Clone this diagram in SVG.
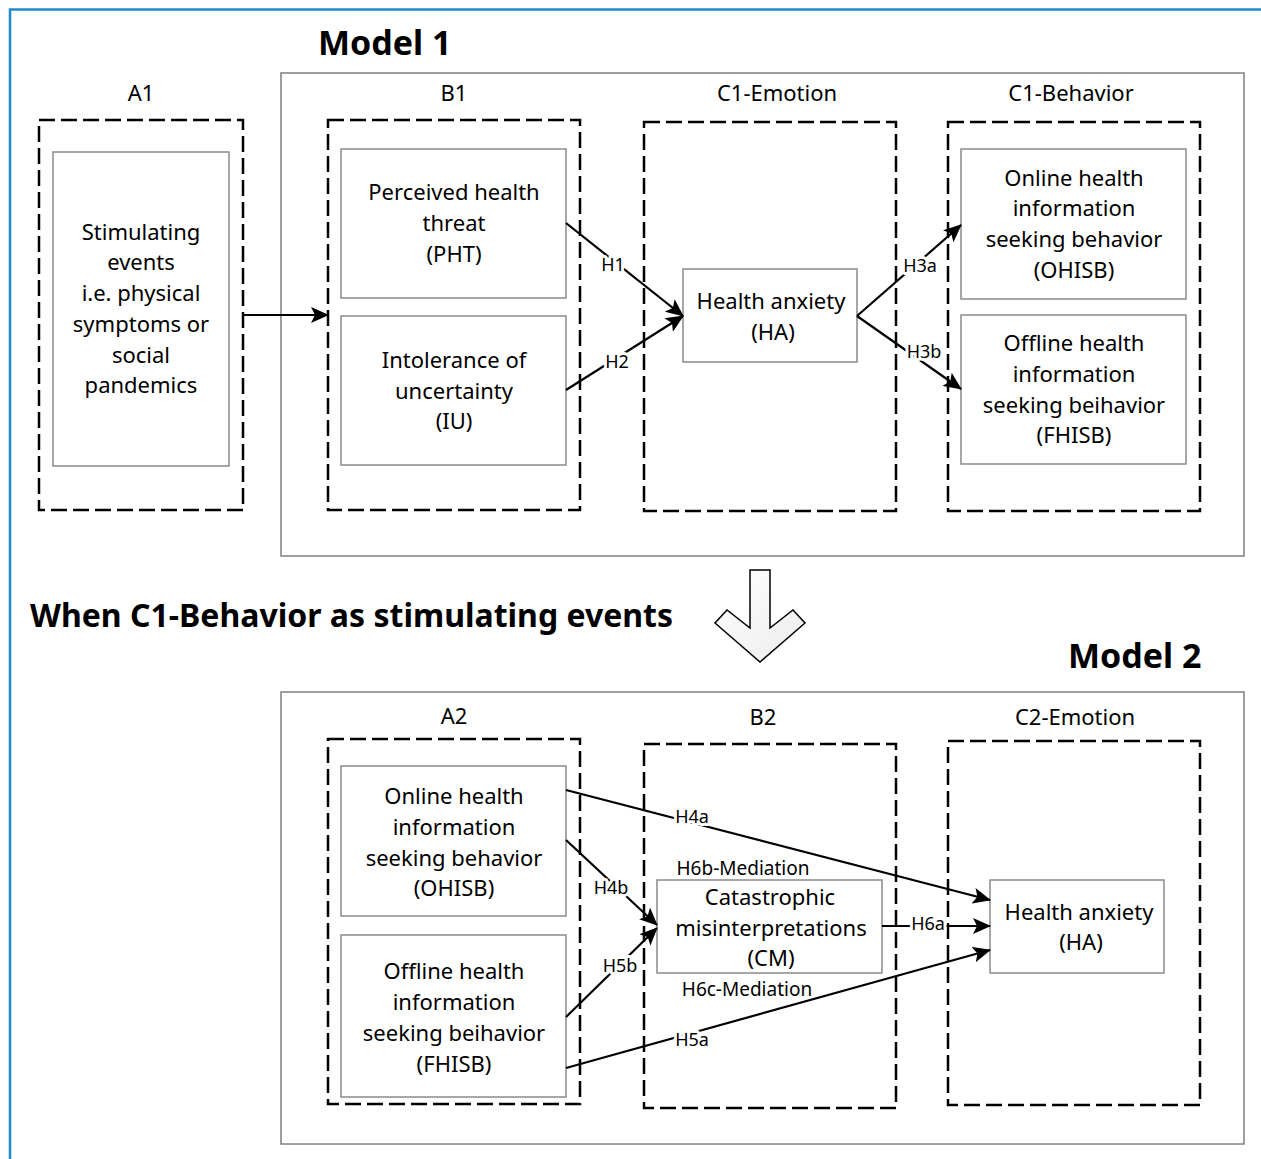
<svg xmlns="http://www.w3.org/2000/svg" width="1261" height="1159" viewBox="0 0 1261 1159">
<style>
text{font-family:"Noto Sans","Liberation Sans",sans-serif;fill:#000}
.t{font-size:22px;text-anchor:middle}
.s{font-size:22px;text-anchor:middle}
.h{font-size:32px;font-weight:bold}
.hm{font-size:34px;font-weight:bold}
.l{font-size:18px;text-anchor:middle;stroke:#fff;stroke-width:6;paint-order:stroke;stroke-linejoin:round}
.m{font-size:19px;text-anchor:middle}
.box{fill:#fff;stroke:#8a8a8a;stroke-width:1.5}
.dash{fill:none;stroke:#000;stroke-width:2.5;stroke-dasharray:16 6}
.outer{fill:#fff;stroke:#7f7f7f;stroke-width:1.5}
.c{stroke:#000;stroke-width:2.2;fill:none;marker-end:url(#ah)}
</style>
<defs>
<marker id="ah" markerUnits="userSpaceOnUse" markerWidth="18" markerHeight="16" viewBox="0 0 18 16" refX="17" refY="8" orient="auto">
<path d="M0,0 L18,8 L0,16 L4,8 Z" fill="#000"/>
</marker>
<linearGradient id="g" x1="0" y1="0" x2="1" y2="1"><stop offset="0" stop-color="#ffffff"/><stop offset="1" stop-color="#ececec"/></linearGradient>
</defs>
<rect x="0" y="0" width="1261" height="1159" fill="#fff"/>
<path d="M10,1159 V9.5 H1261" fill="none" stroke="#1f8ac8" stroke-width="2.5"/>

<text class="hm" x="318" y="55">Model 1</text>
<rect class="outer" x="281" y="73" width="963" height="483"/>

<g id="A1">
<text class="s" x="141" y="101">A1</text>
<rect class="dash" x="39" y="120" width="204" height="390"/>
<g id="stim"><rect class="box" x="53" y="152" width="176" height="314"/>
<text class="t" x="141" y="240">Stimulating</text>
<text class="t" x="141" y="270">events</text>
<text class="t" x="141" y="301">i.e. physical</text>
<text class="t" x="141" y="332">symptoms or</text>
<text class="t" x="141" y="363">social</text>
<text class="t" x="141" y="393">pandemics</text></g>
</g>

<g id="B1">
<text class="s" x="454" y="101">B1</text>
<rect class="dash" x="328" y="120" width="252" height="390"/>
<g id="PHT"><rect class="box" x="341" y="149" width="225" height="149"/>
<text class="t" x="454" y="200">Perceived health</text>
<text class="t" x="454" y="231">threat</text>
<text class="t" x="454" y="262">(PHT)</text></g>
<g id="IU"><rect class="box" x="341" y="316" width="225" height="149"/>
<text class="t" x="454" y="368">Intolerance of</text>
<text class="t" x="454" y="399">uncertainty</text>
<text class="t" x="454" y="429">(IU)</text></g>
</g>

<g id="C1E">
<text class="s" x="777" y="101">C1-Emotion</text>
<rect class="dash" x="644" y="122" width="252" height="389"/>
<g id="HA1"><rect class="box" x="683" y="269" width="174" height="93"/>
<text class="t" x="771" y="309">Health anxiety</text>
<text class="t" x="773" y="340">(HA)</text></g>
</g>

<g id="C1B">
<text class="s" x="1071" y="101">C1-Behavior</text>
<rect class="dash" x="948" y="122" width="252" height="389"/>
<g id="OHISB1"><rect class="box" x="961" y="149" width="225" height="150"/>
<text class="t" x="1074" y="186">Online health</text>
<text class="t" x="1074" y="216">information</text>
<text class="t" x="1074" y="247">seeking behavior</text>
<text class="t" x="1074" y="278">(OHISB)</text></g>
<g id="FHISB1"><rect class="box" x="961" y="315" width="225" height="149"/>
<text class="t" x="1074" y="351">Offline health</text>
<text class="t" x="1074" y="382">information</text>
<text class="t" x="1074" y="413">seeking beihavior</text>
<text class="t" x="1074" y="443">(FHISB)</text></g>
</g>

<text class="h" x="30" y="627">When C1-Behavior as stimulating events</text>
<g id="downarrow"><polygon points="750,570 770,570 770,628 793,610 805,623 760,662 715,623 727,610 750,628" fill="url(#g)" stroke="#000" stroke-width="1.5" stroke-linejoin="miter"/></g>
<text class="hm" x="1068" y="668">Model 2</text>
<rect class="outer" x="281" y="692" width="963" height="452"/>

<g id="A2">
<text class="s" x="454" y="724">A2</text>
<rect class="dash" x="328" y="739" width="252" height="365"/>
<g id="OHISB2"><rect class="box" x="341" y="766" width="225" height="150"/>
<text class="t" x="454" y="804">Online health</text>
<text class="t" x="454" y="835">information</text>
<text class="t" x="454" y="866">seeking behavior</text>
<text class="t" x="454" y="896">(OHISB)</text></g>
<g id="FHISB2"><rect class="box" x="341" y="935" width="225" height="162"/>
<text class="t" x="454" y="979">Offline health</text>
<text class="t" x="454" y="1010">information</text>
<text class="t" x="454" y="1041">seeking beihavior</text>
<text class="t" x="454" y="1072">(FHISB)</text></g>
</g>

<g id="B2">
<text class="s" x="763" y="725">B2</text>
<rect class="dash" x="644" y="744" width="252" height="364"/>
<g id="CM"><rect class="box" x="657" y="880" width="225" height="93"/>
<text class="t" x="770" y="905">Catastrophic</text>
<text class="t" x="771" y="936">misinterpretations</text>
<text class="t" x="771" y="966">(CM)</text></g>
</g>

<g id="C2E">
<text class="s" x="1075" y="725">C2-Emotion</text>
<rect class="dash" x="948" y="741" width="252" height="364"/>
<g id="HA2"><rect class="box" x="990" y="880" width="174" height="93"/>
<text class="t" x="1079" y="920">Health anxiety</text>
<text class="t" x="1081" y="950">(HA)</text></g>
</g>

<g id="connectors">
<line class="c" x1="243" y1="315" x2="328" y2="315"/>
<line class="c" x1="566" y1="223" x2="683" y2="316"/>
<line class="c" x1="566" y1="390" x2="683" y2="316"/>
<line class="c" x1="857" y1="316" x2="961" y2="225"/>
<line class="c" x1="857" y1="316" x2="961" y2="389"/>
<line class="c" x1="566" y1="790" x2="990" y2="900"/>
<line class="c" x1="566" y1="840" x2="657" y2="925"/>
<line class="c" x1="566" y1="1017" x2="657" y2="928"/>
<line class="c" x1="566" y1="1068" x2="990" y2="950"/>
<line class="c" x1="882" y1="926" x2="990" y2="926"/>
<text class="l" x="613" y="271">H1</text>
<text class="l" x="617" y="368">H2</text>
<text class="l" x="920" y="272">H3a</text>
<text class="l" x="924" y="358">H3b</text>
<text class="l" x="692" y="823">H4a</text>
<text class="l" x="611" y="894">H4b</text>
<text class="l" x="620" y="972">H5b</text>
<text class="l" x="692" y="1046">H5a</text>
<text class="l" x="928" y="930">H6a</text>
<text class="m" x="743" y="875">H6b-Mediation</text>
<text class="m" x="747" y="996">H6c-Mediation</text>
</g>
</svg>
